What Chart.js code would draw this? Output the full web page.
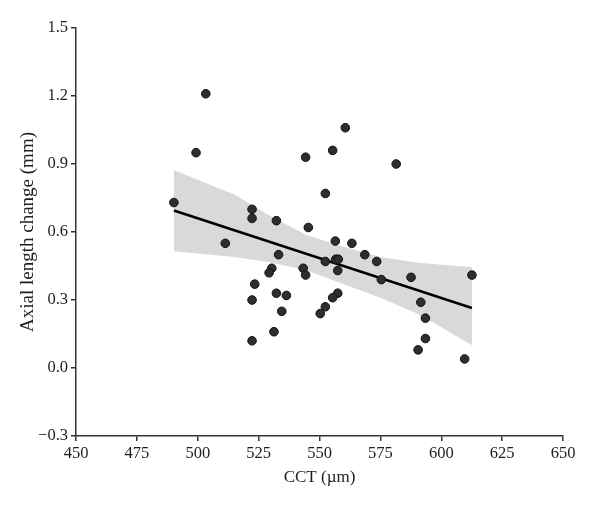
<!DOCTYPE html>
<html>
<head>
<meta charset="utf-8">
<script src="https://cdn.jsdelivr.net/npm/chart.js@4.4.1/dist/chart.umd.min.js"></script>
<style>
  html, body { margin: 0; padding: 0; background: #fff; }
  #wrap { width: 600px; height: 506px; }
</style>
</head>
<body>
<div id="wrap"><canvas id="scatterChart" width="600" height="506"></canvas></div>
<script>
// ---- data ----
const cctValues = [
  490.2, 503.3, 499.3, 522.3, 522.3, 532.3, 511.3, 533.2, 560.6, 544.3,
  555.4, 581.5, 552.4, 545.4, 556.5, 563.3, 568.6, 573.5, 552.4, 556.7,
  557.7, 543.3, 544.3, 557.5, 575.4, 587.6, 591.6, 557.5, 555.4, 552.4,
  550.3, 593.5, 593.5, 590.5, 609.6, 612.6, 530.4, 529.3, 523.4, 532.3,
  536.4, 522.3, 534.5, 531.3, 522.3
];
const axialChange = [
  0.73, 1.21, 0.95, 0.70, 0.66, 0.65, 0.55, 0.50, 1.06, 0.93,
  0.96, 0.90, 0.77, 0.62, 0.56, 0.55, 0.50, 0.47, 0.47, 0.48,
  0.48, 0.44, 0.41, 0.43, 0.39, 0.40, 0.29, 0.33, 0.31, 0.27,
  0.24, 0.22, 0.13, 0.08, 0.04, 0.41, 0.44, 0.42, 0.37, 0.33,
  0.32, 0.30, 0.25, 0.16, 0.12
];

// regression line ends
const fitX = [490.2, 612.6];
const fitY = [0.695, 0.265];

// confidence band
const bandX     = [490.2, 500, 515, 530, 545, 560, 575, 590, 600, 612.6];
const bandUpper = [0.873, 0.83, 0.765, 0.67, 0.585, 0.535, 0.49, 0.465, 0.455, 0.446];
const bandLower = [0.515, 0.505, 0.49, 0.465, 0.43, 0.37, 0.31, 0.24, 0.18, 0.10];

const xTicks = { min: 450, max: 650, step: 25 };
const yTicks = { min: -0.3, max: 1.5, step: 0.3 };

const toPts = (xs, ys) => xs.map((x, i) => ({ x: x, y: ys[i] }));

const serif = "'Liberation Serif', 'DejaVu Serif', serif";
const axisColor = "#333";
const textColor = "#1e1e1e";

const ctx = document.getElementById("scatterChart");

new Chart(ctx, {
  type: "scatter",
  data: {
    datasets: [
      {
        label: "Subjects",
        data: toPts(cctValues, axialChange),
        backgroundColor: "#2e2e2e",
        borderColor: "#111",
        borderWidth: 1,
        pointRadius: 4.3,
        order: 0
      },
      {
        label: "Fit",
        data: toPts(fitX, fitY),
        showLine: true,
        borderColor: "#000",
        borderWidth: 2.6,
        pointRadius: 0,
        fill: false,
        order: 1
      },
      {
        label: "CI upper",
        data: toPts(bandX, bandUpper),
        showLine: true,
        borderColor: "rgba(0,0,0,0)",
        borderWidth: 0,
        pointRadius: 0,
        backgroundColor: "#d9d9d9",
        fill: "+1",
        order: 2
      },
      {
        label: "CI lower",
        data: toPts(bandX, bandLower),
        showLine: true,
        borderColor: "rgba(0,0,0,0)",
        borderWidth: 0,
        pointRadius: 0,
        fill: false,
        order: 3
      }
    ]
  },
  options: {
    responsive: false,
    animation: false,
    layout: { padding: { top: 28, right: 37, bottom: 18, left: 0 } },
    plugins: {
      legend: { display: false },
      tooltip: { enabled: false }
    },
    scales: {
      x: {
        type: "linear",
        min: xTicks.min,
        max: xTicks.max,
        afterFit: (s) => { s.height = 52; },
        border: { color: axisColor, width: 1.5 },
        grid: { drawOnChartArea: false, drawTicks: true, tickLength: 5, color: axisColor, lineWidth: 1.5 },
        ticks: {
          stepSize: xTicks.step,
          color: textColor,
          padding: 3,
          font: { family: serif, size: 16.5 }
        },
        title: {
          display: true,
          text: "CCT (\u00b5m)",
          color: textColor,
          padding: 0,
          font: { family: serif, size: 17 }
        }
      },
      y: {
        min: yTicks.min,
        max: yTicks.max,
        afterFit: (s) => { s.width = 76; },
        border: { color: axisColor, width: 1.5 },
        grid: { drawOnChartArea: false, drawTicks: true, tickLength: 5, color: axisColor, lineWidth: 1.5 },
        ticks: {
          stepSize: yTicks.step,
          color: textColor,
          padding: 3,
          font: { family: serif, size: 16.5 },
          callback: (v) => v.toFixed(1).replace("-", "\u2212")
        },
        title: {
          display: true,
          text: "Axial length change (mm)",
          color: textColor,
          padding: { top: 17, bottom: 0 },
          font: { family: serif, size: 19 }
        }
      }
    }
  }
});
</script>
</body>
</html>
